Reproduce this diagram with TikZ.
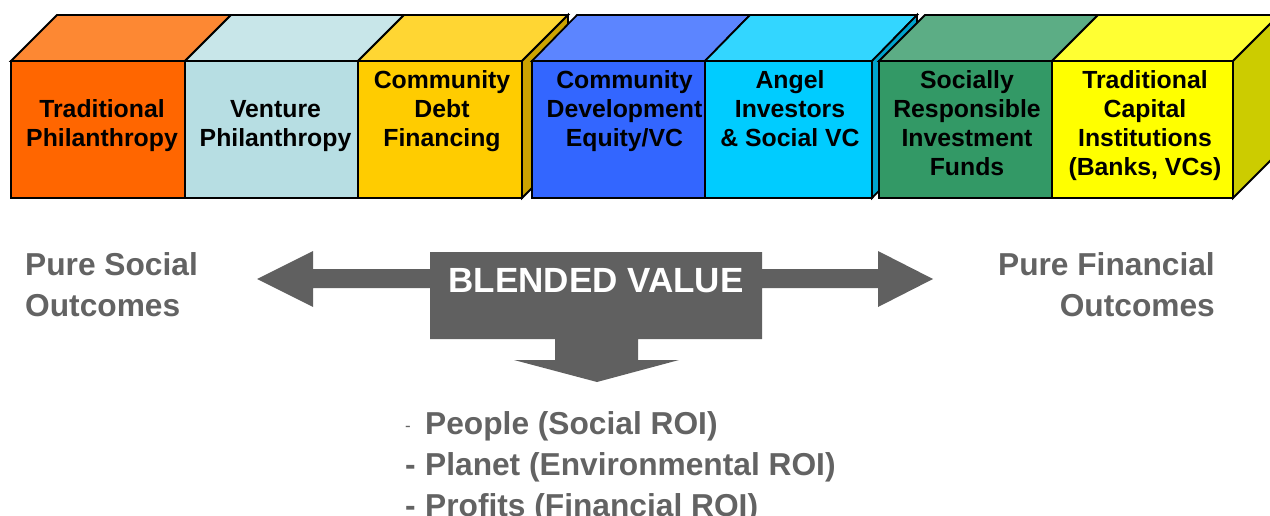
\documentclass[tikz,border=0pt]{standalone}
\usepackage{fontspec}
\setmainfont{Liberation Sans}
\definecolor{c1f}{HTML}{FF6600}\definecolor{c1t}{HTML}{FD8833}
\definecolor{c2f}{HTML}{B7DEE3}\definecolor{c2t}{HTML}{C8E6E9}
\definecolor{c3f}{HTML}{FFCC00}\definecolor{c3t}{HTML}{FFD633}\definecolor{c3s}{HTML}{CCA300}
\definecolor{c4f}{HTML}{3366FF}\definecolor{c4t}{HTML}{5C85FF}
\definecolor{c5f}{HTML}{00CCFF}\definecolor{c5t}{HTML}{33D6FF}\definecolor{c5s}{HTML}{00A3CC}
\definecolor{c6f}{HTML}{339966}\definecolor{c6t}{HTML}{5CAD85}
\definecolor{c7f}{HTML}{FFFF00}\definecolor{c7t}{HTML}{FFFF33}\definecolor{c7s}{HTML}{CCCC00}
\definecolor{arrowgray}{HTML}{606060}
\definecolor{labelgray}{HTML}{636363}
\newcommand{\cubebox}[5]{%
  \filldraw[face, fill=#4] (#1,61) -- (#1+#5,15) -- (#2+#5,15) -- (#2,61) -- cycle;
  \filldraw[face, fill=#3] (#1,61) rectangle (#2,198);
}
\newcommand{\cubeside}[3]{%
  \filldraw[face, fill=#2] (#1,61) -- (#1+#3,15) -- (#1+#3,152) -- (#1,198) -- cycle;
}
\tikzset{
  face/.style={draw=black, line width=1.8pt, line join=miter},
  boxtext/.style={font=\bfseries\fontsize{24.8}{29.3}\selectfont, align=center, inner sep=0pt, text=black, anchor=base},
  sidetext/.style={font=\bfseries\fontsize{31.7}{41}\selectfont, inner sep=0pt, text=labelgray},
}
\begin{document}
\begin{tikzpicture}[x=1pt,y=-1pt]
\useasboundingbox (0,0) rectangle (1270,516);
\clip (0,0) rectangle (1270,516);
% group 1
\cubebox{11}{185}{c1f}{c1t}{46}
\cubebox{185}{358}{c2f}{c2t}{46}
\cubebox{358}{522}{c3f}{c3t}{46}
\cubeside{522}{c3s}{46}
% group 2
\cubebox{532}{705}{c4f}{c4t}{45}
\cubebox{705}{872}{c5f}{c5t}{45}
\cubeside{872}{c5s}{45}
% group 3
\cubebox{879}{1052}{c6f}{c6t}{46}
\cubebox{1052}{1233}{c7f}{c7t}{46}
\cubeside{1233}{c7s}{46}
% box texts (anchor = baseline of last line)
\node[boxtext] (t1) at (102,147) {Traditional\\Philanthropy};
\node[boxtext] (t2) at (275.5,147) {Venture\\Philanthropy};
\node[boxtext] (t3) at (442,147) {Community\\Debt\\Financing};
\node[boxtext] (t4) at (624.5,147) {Community\\Development\\Equity/VC};
\node[boxtext] (t5) at (790,147) {Angel\\Investors\\\& Social VC};
\node[boxtext] (t6) at (967,176) {Socially\\Responsible\\Investment\\Funds};
\node[boxtext] (t7) at (1145,176) {Traditional\\Capital\\Institutions\\(Banks, VCs)};
% blended value arrow
\fill[arrowgray] (257,279) -- (313,251) -- (313,269) -- (430,269) -- (430,252) -- (762,252)
  -- (762,269) -- (878,269) -- (878,251) -- (933,279) -- (878,307) -- (878,288) -- (762,288)
  -- (762,339) -- (638,339) -- (638,360) -- (679,360) -- (597,382) -- (514,360) -- (555,360)
  -- (555,339) -- (430,339) -- (430,288) -- (313,288) -- (313,307) -- cycle;
\node[font=\bfseries\fontsize{35}{40}\selectfont, text=white, inner sep=0pt, anchor=base] (bv) at (596,292) {BLENDED VALUE};
% side labels
\node[sidetext, align=left, anchor=base west] (social) at (25,316) {Pure Social\\Outcomes};
\node[sidetext, align=right, anchor=base east] (fin) at (1215,316) {Pure Financial\\Outcomes};
% outcomes list
\node[sidetext, align=left, anchor=base west] (list) at (405,516)
  {\makebox[20pt][l]{\raisebox{3pt}{\fontsize{17}{17}\selectfont\mdseries -}}People (Social ROI)\\
   \makebox[20pt][l]{-}Planet (Environmental ROI)\\
   \makebox[20pt][l]{-}Profits (Financial ROI)};
\end{tikzpicture}
\end{document}
